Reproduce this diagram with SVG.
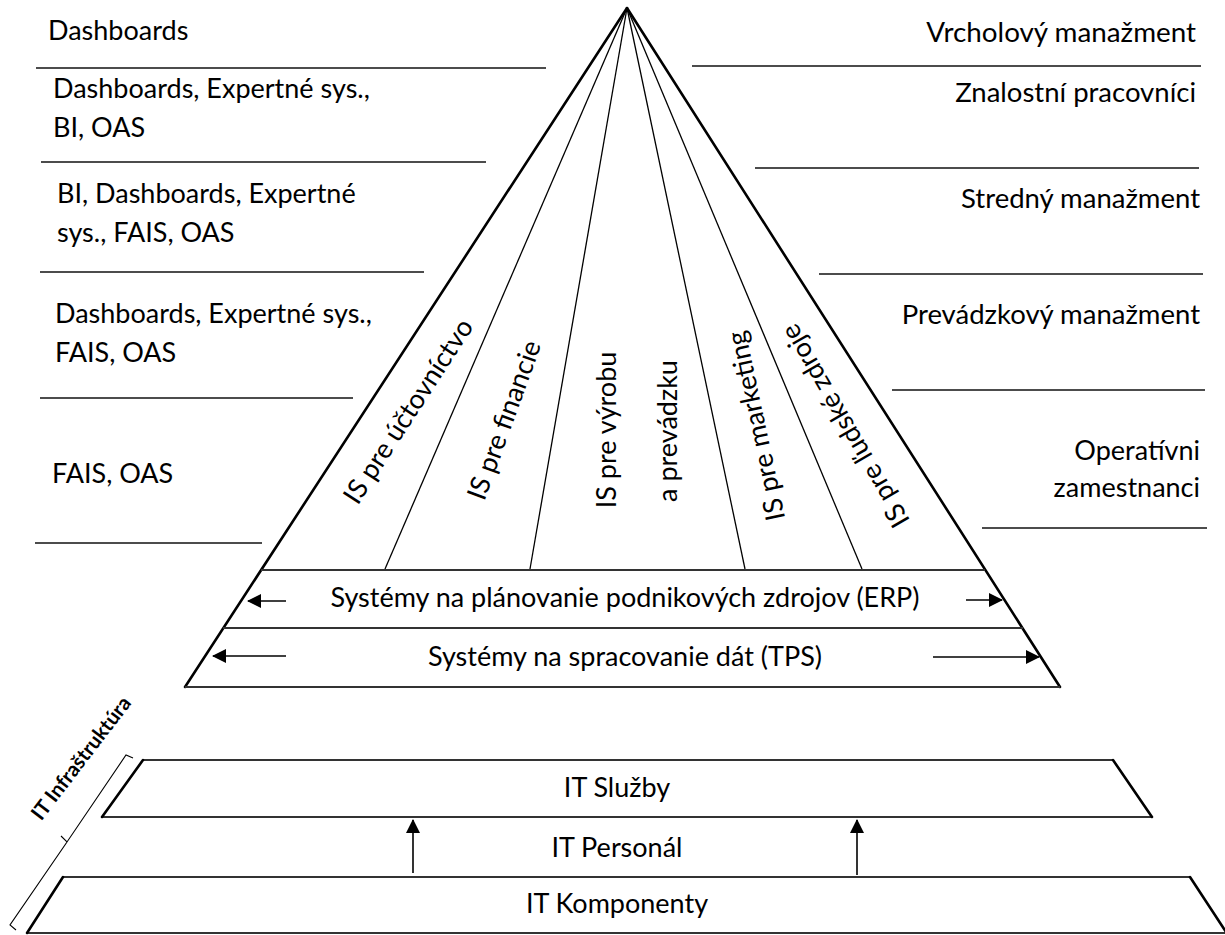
<svg xmlns="http://www.w3.org/2000/svg" width="1225" height="935" viewBox="0 0 1225 935">
  <style>
    .t { font-family: Lato, "Liberation Sans", sans-serif; font-size: 27px; fill: #000; }
    .e { text-anchor: end; }
    .m { text-anchor: middle; }
    .side { stroke: #000; stroke-width: 2.6; fill: none; stroke-linecap: round; }
    .div { stroke: #000; stroke-width: 1.3; fill: none; }
    .rule { stroke: #111; stroke-width: 1.6; fill: none; }
    .band { stroke: #333; stroke-width: 2; fill: none; }
    .arr { stroke: #000; stroke-width: 1.6; fill: none; marker-end: url(#ah); }
    .bold { font-weight: bold; font-size: 20.5px; }
  </style>
  <defs>
    <marker id="ah" viewBox="0 0 14 14" refX="13" refY="7" markerWidth="14" markerHeight="14" markerUnits="userSpaceOnUse" orient="auto">
      <path d="M0,0 L14,7 L0,14 z" fill="#000"/>
    </marker>
  </defs>

  <!-- pyramid outline and dividers -->
  <g id="pyramid">
    <line class="side" x1="627" y1="8" x2="185" y2="687"/>
    <line class="side" x1="627" y1="8" x2="1060" y2="687"/>
    <line class="div" x1="627" y1="8" x2="385" y2="569"/>
    <line class="div" x1="627" y1="8" x2="530" y2="569"/>
    <line class="div" x1="627" y1="8" x2="745" y2="569"/>
    <line class="div" x1="627" y1="8" x2="862" y2="569"/>
  </g>

  <!-- functional IS labels -->
  <g id="is-labels">
    <text class="t m" dy="0.35em" transform="translate(408,411) rotate(-57)">IS pre účtovníctvo</text>
    <text class="t m" dy="0.35em" transform="translate(504,420) rotate(-70)">IS pre financie</text>
    <text class="t m" dy="0.35em" transform="translate(607,430) rotate(-90)">IS pre výrobu</text>
    <text class="t m" dy="0.35em" transform="translate(668,431) rotate(-90)">a prevádzku</text>
    <text class="t m" dy="0.35em" transform="translate(756,426) rotate(-102)">IS pre marketing</text>
    <text class="t m" dy="0.35em" transform="translate(845,426) rotate(-120)">IS pre ľudské zdroje</text>
  </g>

  <!-- ERP band -->
  <g id="erp">
    <line class="band" x1="261" y1="570" x2="985" y2="570"/>
    <text class="t m" x="625" y="607">Systémy na plánovanie podnikových zdrojov (ERP)</text>
  </g>

  <!-- TPS band -->
  <g id="tps">
    <line class="band" x1="223" y1="628" x2="1023" y2="628"/>
    <line class="band" x1="185" y1="687" x2="1060" y2="687"/>
    <text class="t m" x="625" y="666">Systémy na spracovanie dát (TPS)</text>
  </g>

  <!-- left column: tools per level -->
  <g id="tools">
    <text class="t" x="48" y="40">Dashboards</text>
    <line class="rule" x1="36" y1="68" x2="546" y2="68"/>
    <text class="t" x="53" y="98">Dashboards, Expertné sys.,</text>
    <text class="t" x="53" y="137">BI, OAS</text>
    <line class="rule" x1="41" y1="162" x2="486" y2="162"/>
    <text class="t" x="57" y="203">BI, Dashboards, Expertné</text>
    <text class="t" x="57" y="242">sys., FAIS, OAS</text>
    <line class="rule" x1="40" y1="272" x2="424" y2="272"/>
    <text class="t" x="55" y="323">Dashboards, Expertné sys.,</text>
    <text class="t" x="55" y="362">FAIS, OAS</text>
    <line class="rule" x1="40" y1="398" x2="353" y2="398"/>
    <text class="t" x="52" y="483">FAIS, OAS</text>
    <line class="rule" x1="35" y1="543" x2="262" y2="543"/>
  </g>

  <!-- right column: management levels -->
  <g id="levels">
    <text class="t e" x="1196" y="42" style="font-size:27.8px">Vrcholový manažment</text>
    <line class="rule" x1="692" y1="66" x2="1201" y2="66"/>
    <text class="t e" x="1196" y="102" style="font-size:27.5px">Znalostní pracovníci</text>
    <line class="rule" x1="755" y1="168" x2="1199" y2="168"/>
    <text class="t e" x="1200" y="208" style="font-size:27.5px">Stredný manažment</text>
    <line class="rule" x1="819" y1="274" x2="1203" y2="274"/>
    <text class="t e" x="1200" y="324" style="font-size:27.5px">Prevádzkový manažment</text>
    <line class="rule" x1="892" y1="390" x2="1205" y2="390"/>
    <text class="t e" x="1200" y="460">Operatívni</text>
    <text class="t e" x="1200" y="497">zamestnanci</text>
    <line class="rule" x1="982" y1="528" x2="1207" y2="528"/>
  </g>

  <!-- IT services layer -->
  <g id="it-sluzby">
    <line class="band" x1="143" y1="760" x2="1113" y2="760"/>
    <line class="band" x1="102" y1="817" x2="1152" y2="817"/>
    <line class="side" x1="143" y1="760" x2="102" y2="817"/>
    <line class="side" x1="1113" y1="760" x2="1152" y2="817"/>
    <text class="t m" x="617" y="797">IT Služby</text>
  </g>

  <!-- IT staff layer -->
  <g id="it-personal">
    <text class="t m" x="617" y="857">IT Personál</text>
  </g>

  <!-- IT components layer -->
  <g id="it-komponenty">
    <line class="band" x1="63" y1="877" x2="1190" y2="877"/>
    <line class="band" x1="27" y1="933" x2="1225" y2="933"/>
    <line class="side" x1="63" y1="877" x2="27" y2="933"/>
    <line class="side" x1="1190" y1="877" x2="1228" y2="935"/>
    <text class="t m" x="617" y="913">IT Komponenty</text>
  </g>

  <!-- IT infrastructure brace -->
  <g id="infrastruktura">
    <path d="M133,758 L126,755 L67,842 L61,836 M67,842 L10,925 L16,930" fill="none" stroke="#000" stroke-width="1.1"/>
    <text class="t bold m" dy="0.35em" transform="translate(81,758) rotate(-52.5)">IT Infraštruktúra</text>
  </g>

  <!-- connectors -->
  <g id="connectors">
    <line class="arr" x1="286" y1="601" x2="248" y2="601"/>
    <line class="arr" x1="966" y1="600" x2="1002" y2="600"/>
    <line class="arr" x1="286" y1="656" x2="213" y2="656"/>
    <line class="arr" x1="933" y1="657" x2="1039" y2="657"/>
    <line class="arr" x1="413" y1="873" x2="413" y2="820"/>
    <line class="arr" x1="857" y1="875" x2="857" y2="820"/>
  </g>
</svg>
